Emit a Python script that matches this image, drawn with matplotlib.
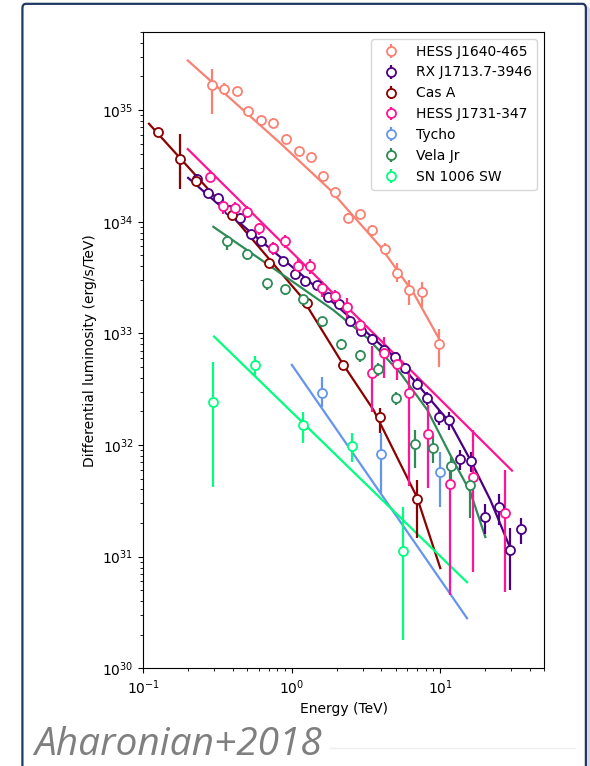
import matplotlib
matplotlib.use('Agg')
import matplotlib.pyplot as plt
from matplotlib.patches import FancyBboxPatch
from matplotlib.lines import Line2D

# HESS J1640-465
j1640_E = [0.29, 0.35, 0.43, 0.51, 0.62, 0.75, 0.91, 1.11, 1.34, 1.62, 1.96, 2.39, 2.87, 3.48, 4.21, 5.11, 6.18, 7.53, 9.85]
j1640_L = [1.66e35, 1.54e35, 1.48e35, 9.9e34, 8.2e34, 7.7e34, 5.5e34, 4.3e34, 3.8e34, 2.55e34, 1.84e34, 1.09e34, 1.18e34,
           8.5e33, 5.7e33, 3.5e33, 2.45e33, 2.34e33, 8.0e32]
j1640_lo = [7.3e34, 1.7e34, 9e33, 5e33, 4e33, 4e33, 3e33, 2.5e33, 2e33, 1.5e33, 1.1e33, 1e33, 7e32, 1.1e33, 7e32, 6e32,
            6.5e32, 6e32, 3e32]
j1640_hi = [6.8e34, 2.1e34, 9e33, 5e33, 4e33, 4e33, 3e33, 2.5e33, 2e33, 1.5e33, 1.1e33, 1e33, 7e32, 9e32, 7e32, 8e32,
            5.7e32, 5.6e32, 3e32]
j1640_fitE = [0.199, 0.834, 1.81, 3.94, 6.61, 9.9]
j1640_fitL = [2.78e35, 5.06e34, 1.93e34, 6.0e33, 2.29e33, 8.75e32]

# RX J1713.7-3946
rxj_E = [0.229, 0.272, 0.320, 0.378, 0.448, 0.529, 0.621, 0.745, 0.878, 1.052, 1.229, 1.470, 1.749, 2.062, 2.473,
         2.933, 3.463, 4.147, 4.918, 5.807, 6.922, 8.173, 9.739, 11.50, 13.64, 16.18, 20.11, 24.73, 29.33, 35.01]
rxj_L = [2.42e34, 1.81e34, 1.63e34, 1.28e34, 1.08e34, 7.80e33, 6.75e33, 5.84e33, 4.47e33, 3.39e33, 2.93e33, 2.69e33,
         2.11e33, 1.83e33, 1.29e33, 1.05e33, 8.99e32, 7.12e32, 6.20e32, 4.94e32, 3.55e32, 2.62e32, 1.78e32, 1.66e32,
         7.46e31, 7.25e31, 2.28e31, 2.77e31, 1.15e31, 1.76e31]
rxj_err = [2.5e33, 1.5e33, 1.3e33, 1e33, 8e32, 6e32, 5e32, 4.5e32, 3.5e32, 2.7e32, 2.3e32, 2.1e32, 1.7e32, 1.5e32,
           1.1e32, 9e31, 8e31, 6.5e31, 6e31, 5e31, 4e31, 3.5e31, 2.8e31, 3e31, 1.5e31, 1.5e31, 7e30, 8.5e30, 6.5e30,
           4.5e30]
rxj_fitE = [0.200, 0.523, 1.229, 2.473, 4.896, 8.173, 11.68, 15.93, 21.74, 29.33]
rxj_fitL = [2.47e34, 8.12e33, 3.15e33, 1.38e33, 6.16e32, 2.75e32, 1.57e32, 7.36e31, 3.22e31, 1.23e31]

# Cas A
casa_E = [0.126, 0.175, 0.227, 0.395, 0.700, 1.26, 2.21, 3.94, 6.97]
casa_L = [6.30e34, 3.68e34, 2.33e34, 1.15e34, 4.26e33, 1.88e33, 5.22e32, 1.77e32, 3.26e31]
casa_lo = [5.7e33, 1.7e34, 2e33, 1e33, 4e32, 1.7e32, 3.5e31, 4.9e31, 1.8e31]
casa_hi = [6.0e33, 2.4e34, 2e33, 1e33, 4e32, 1.7e32, 3.5e31, 3.8e31, 1.6e31]
casa_fitE = [0.109, 0.390, 1.155, 2.21, 3.55, 6.97, 10.0]
casa_fitL = [7.54e34, 1.16e34, 2.14e33, 5.3e32, 2.06e32, 3.4e31, 7.9e30]

# HESS J1731-347
j1731_E = [0.281, 0.342, 0.415, 0.502, 0.605, 0.745, 0.901, 1.094, 1.328, 1.593, 1.950, 2.349, 2.856, 3.463, 4.192,
           5.105, 6.180, 8.21, 11.68, 16.61, 27.44]
j1731_L = [2.54e34, 1.39e34, 1.33e34, 1.23e34, 8.70e33, 5.80e33, 6.68e33, 4.03e33, 4.03e33, 2.53e33, 2.14e33, 1.71e33,
           1.19e33, 4.46e32, 6.62e32, 5.31e32, 2.93e32, 1.26e32, 4.45e31, 5.18e31, 2.48e31]
j1731_lo = [2.5e33, 2.2e33, 1.6e33, 1.5e33, 1.1e33, 8e32, 9e32, 6e32, 6e32, 4.3e32, 3e32, 3.5e32, 1.6e32, 2.5e32,
            2.6e32, 1.5e32, 2.5e32, 8.5e31, 4.0e31, 4.45e31, 2.0e31]
j1731_hi = [3.5e33, 2.2e33, 1.6e33, 1.5e33, 1.1e33, 8e32, 9e32, 6e32, 6e32, 4.3e32, 3e32, 3.5e32, 1.6e32, 3.2e32,
            2.7e32, 1.5e32, 2.0e32, 1.03e32, 1.5e31, 8.5e31, 3.5e31]
j1731_fitE = [0.199, 30.4]
j1731_fitL = [4.47e34, 5.9e31]

# Tycho
tycho_E = [1.593, 4.00, 10.0]
tycho_L = [2.95e32, 8.28e31, 5.78e31]
tycho_lo = [7.4e31, 4.56e31, 2.97e31]
tycho_hi = [1.15e32, 4.5e31, 2.9e31]
tycho_fitE = [1.0, 15.14]
tycho_fitL = [5.22e32, 2.81e30]

# Vela Jr
vela_E = [0.368, 0.497, 0.678, 0.901, 1.192, 1.593, 2.140, 2.856, 3.801, 5.050, 6.708, 8.874, 11.81, 15.93]
vela_L = [6.75e33, 5.13e33, 2.82e33, 2.52e33, 2.02e33, 1.28e33, 8.11e32, 6.35e32, 4.84e32, 2.66e32, 1.02e32, 9.36e31,
          6.46e31, 4.42e31]
vela_lo = [1.2e33, 6e32, 3.5e32, 3e32, 2.5e32, 1.5e32, 1e32, 8e31, 7e31, 4e31, 3.97e31, 2.45e31, 1.9e31, 2.2e31]
vela_hi = [8e32, 4e32, 2.5e32, 2e32, 2e32, 1.2e32, 8e31, 7e31, 6e31, 3.5e31, 3.5e31, 2.9e31, 1.4e31, 7.5e30]
vela_fitE = [0.296, 1.138, 1.899, 3.219, 5.374, 8.173, 11.68, 15.93, 20.11]
vela_fitL = [9.00e33, 2.61e33, 1.62e33, 9.12e32, 4.43e32, 2.06e32, 8.15e31, 3.8e31, 1.5e31]

# SN 1006 SW
sn1006_E = [0.296, 0.566, 1.186, 2.539, 5.57]
sn1006_L = [2.42e32, 5.22e32, 1.51e32, 9.88e31, 1.13e31]
sn1006_lo = [2.0e32, 1.12e32, 4.7e31, 2.8e31, 9.5e30]
sn1006_hi = [3.17e32, 1.07e32, 4.8e31, 3.0e31, 1.68e31]
sn1006_fitE = [0.299, 15.14]
sn1006_fitL = [9.37e32, 5.90e30]

sources = [
    ('HESS J1640-465', 'salmon', j1640_E, j1640_L, j1640_lo, j1640_hi, j1640_fitE, j1640_fitL),
    ('RX J1713.7-3946', 'indigo', rxj_E, rxj_L, rxj_err, rxj_err, rxj_fitE, rxj_fitL),
    ('Cas A', 'darkred', casa_E, casa_L, casa_lo, casa_hi, casa_fitE, casa_fitL),
    ('HESS J1731-347', 'deeppink', j1731_E, j1731_L, j1731_lo, j1731_hi, j1731_fitE, j1731_fitL),
    ('Tycho', 'cornflowerblue', tycho_E, tycho_L, tycho_lo, tycho_hi, tycho_fitE, tycho_fitL),
    ('Vela Jr', 'seagreen', vela_E, vela_L, vela_lo, vela_hi, vela_fitE, vela_fitL),
    ('SN 1006 SW', 'springgreen', sn1006_E, sn1006_L, sn1006_lo, sn1006_hi, sn1006_fitE, sn1006_fitL),
]

fig = plt.figure(figsize=(5.9, 7.66), dpi=100)

# slide-like frame around the figure, kept behind the axes
fig.patches.append(FancyBboxPatch((0.043, -0.05), 0.955, 1.04, boxstyle='round,pad=0,rounding_size=0.006',
                                  transform=fig.transFigure, fc='none', ec='#d9d9d9', lw=2.5, zorder=-2))
fig.patches.append(FancyBboxPatch((0.038, -0.05), 0.955, 1.045, boxstyle='round,pad=0,rounding_size=0.006',
                                  transform=fig.transFigure, fc='white', ec='#1f3864', lw=1.6, zorder=-1))

ax = fig.add_axes([0.2431, 0.1275, 0.679, 0.8307])
ax.set_zorder(2)

for name, c, E, L, lo, hi, fitE, fitL in sources:
    ax.plot(fitE, fitL, color=c, lw=1.6, zorder=2)
    ax.errorbar(E, L, yerr=[lo, hi], fmt='o', color=c, mfc='white', ms=6.5, mew=1.3,
                elinewidth=1.6, capsize=0, label=name, zorder=3)

ax.set_xscale('log')
ax.set_yscale('log')
ax.set_xlim(0.1, 50)
ax.set_ylim(1e30, 5e35)
ax.set_xlabel('Energy (TeV)', fontsize=10)
ax.set_ylabel('Differential luminosity (erg/s/TeV)', fontsize=10)
ax.tick_params(which='both', direction='out', labelsize=10)
ax.legend(loc='upper right', fontsize=10)

fig.add_artist(Line2D([0.56, 0.975], [0.024, 0.024], color='#eeeeee', lw=1, transform=fig.transFigure))
fig.text(0.058, 0.014, 'Aharonian+2018', fontsize=28, style='italic', color='#7f7f7f',
         family=['Open Sans', 'DejaVu Sans'], va='baseline', ha='left')

fig.savefig('out.png', dpi=100)
